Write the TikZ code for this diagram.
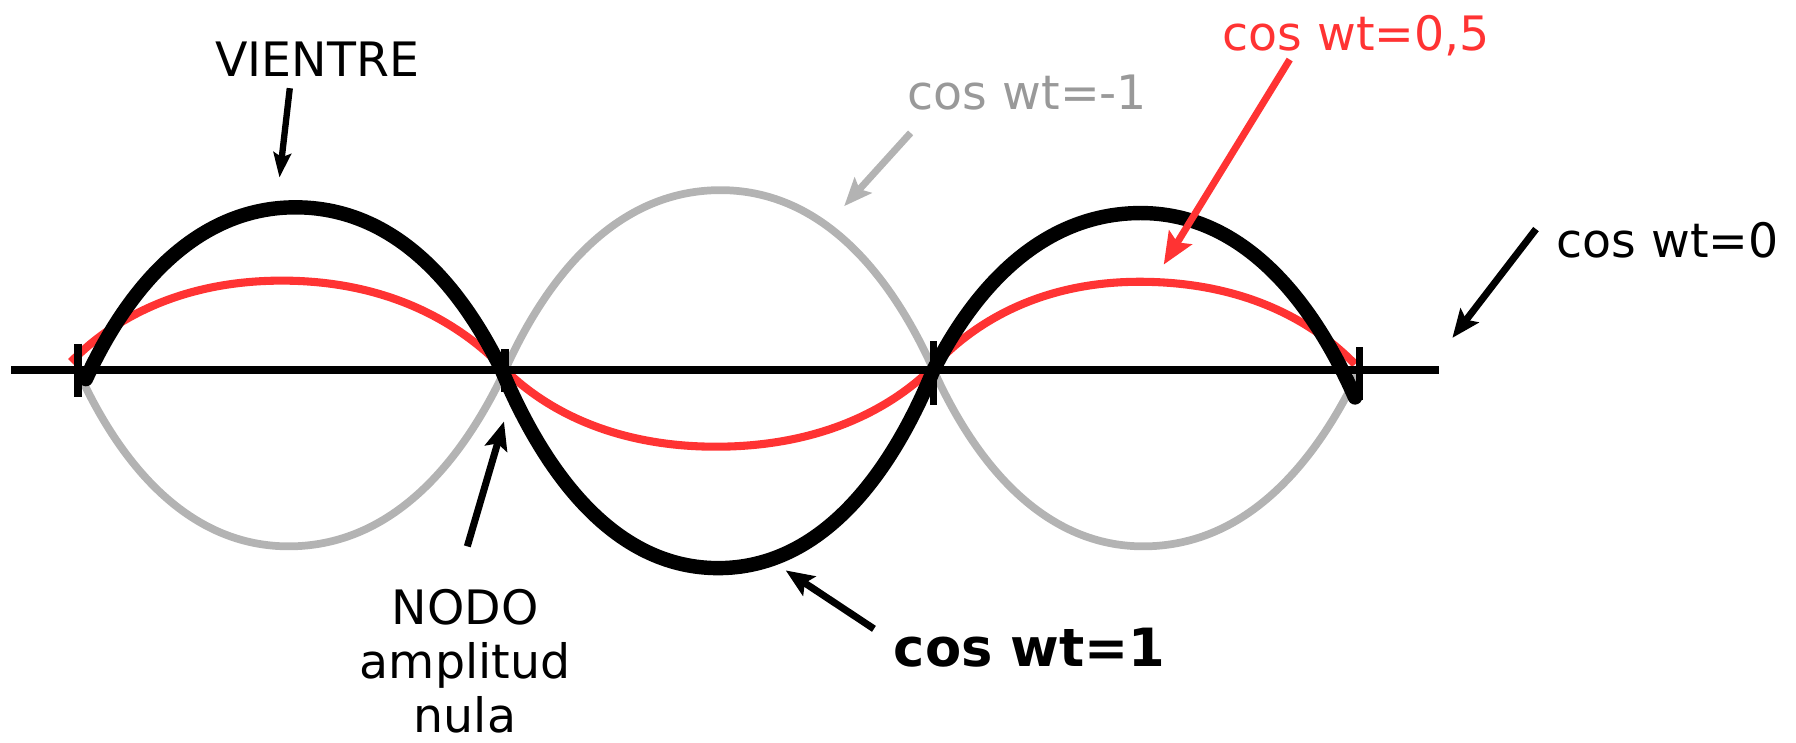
\documentclass[tikz,border=0pt]{standalone}
\usepackage{fontspec}
\setmainfont{DejaVu Sans}
\usetikzlibrary{arrows.meta}
\definecolor{wred}{HTML}{FF3333}
\definecolor{wgray}{HTML}{B3B3B3}
\definecolor{tgray}{HTML}{999999}
\begin{document}
\begin{tikzpicture}[x=0.0114541cm, y=-0.0114541cm,
  lab/.style={inner sep=0pt, font=\fontsize{13.5}{15.4}\selectfont},
  arr/.style={line width=2pt, -{Stealth[length=8pt,width=6.5pt,inset=1.5pt]}},
  grayline/.style={wgray, line width=2.2pt},
  redline/.style={wred, line width=2.3pt},
  blackline/.style={black, line width=4.1pt, line cap=round},
  tickmark/.style={black, line width=2.2pt},
  axisline/.style={black, line width=2.1pt}]
\useasboundingbox (0,0) rectangle (1568,648);

% gray wave (cos wt = -1)
\draw[grayline] (70,328) .. controls (110,414) and (170,477) .. (252,477)
  .. controls (337,477) and (399,412) .. (441,323)
  .. controls (482,232) and (544,166) .. (629,166)
  .. controls (713,166) and (774,232) .. (815,323)
  .. controls (855,412) and (916,477) .. (998,477)
  .. controls (1083,477) and (1145,412) .. (1187,323);

% red wave (cos wt = 0,5)
\draw[redline] (62,316) .. controls (102,275) and (163,245) .. (246,245)
  .. controls (334,245) and (398,278) .. (441,323)
  .. controls (481,362) and (542,390) .. (625,390)
  .. controls (709,390) and (771,362) .. (812,323)
  .. controls (852,278) and (913,246) .. (995,246)
  .. controls (1080,246) and (1142,276) .. (1183,318);

% black wave (cos wt = 1)
\draw[blackline] (75,331) .. controls (115,244) and (176,181) .. (258,181)
  .. controls (339,181) and (398,241) .. (438,323)
  .. controls (480,423) and (542,496) .. (627,496)
  .. controls (712,496) and (774,423) .. (815,323)
  .. controls (855,244) and (915,186) .. (996,186)
  .. controls (1080,186) and (1142,254) .. (1183,347);

% axis and ticks
\coordinate (axL) at (10,323);
\coordinate (axR) at (1256,323);
\draw[axisline] (axL) -- (axR);
\coordinate (t1a) at (68,300);  \coordinate (t1b) at (68,347);
\coordinate (t2a) at (441,305); \coordinate (t2b) at (441,342);
\coordinate (t3a) at (815,298); \coordinate (t3b) at (815,354);
\coordinate (t4a) at (1187,303); \coordinate (t4b) at (1187,349);
\draw[tickmark] (t1a) -- (t1b);
\draw[tickmark] (t2a) -- (t2b);
\draw[tickmark] (t3a) -- (t3b);
\draw[tickmark] (t4a) -- (t4b);

% labels
\node[lab, anchor=base] (vientre) at (277,67) {VIENTRE};
\node[lab, anchor=base, text=tgray] (cm1) at (897,96) {cos wt=-1};
\node[lab, anchor=base, text=wred] (c05) at (1184,44) {cos wt=0,5};
\node[lab, anchor=base] (c0) at (1456,225) {cos wt=0};
\node[lab, anchor=base, font=\fontsize{15}{17}\bfseries] (c1) at (899,582) {cos wt=1};
\node[lab, anchor=north, align=center] (nodo) at (406,514) {NODO\\amplitud\\nula};

% arrows
\coordinate (vs) at (253,77);  \coordinate (ve) at (244,155);
\coordinate (gs) at (795,116); \coordinate (ge) at (737,180);
\coordinate (rs) at (1126,52); \coordinate (re) at (1016,231);
\coordinate (zs) at (1341,200); \coordinate (ze) at (1268,295);
\coordinate (ns) at (408,477); \coordinate (ne) at (440,368);
\coordinate (os) at (763,549); \coordinate (oe) at (686,498);
\draw[arr, line width=1.8pt, -{Stealth[length=7pt,width=5pt,inset=1.2pt]}] (vs) -- (ve);
\draw[arr, wgray] (gs) -- (ge);
\draw[arr, wred, -{Stealth[length=9pt,width=7.5pt,inset=1.6pt]}] (rs) -- (re);
\draw[arr] (zs) -- (ze);
\draw[arr] (ns) -- (ne);
\draw[arr] (os) -- (oe);
\end{tikzpicture}
\end{document}
